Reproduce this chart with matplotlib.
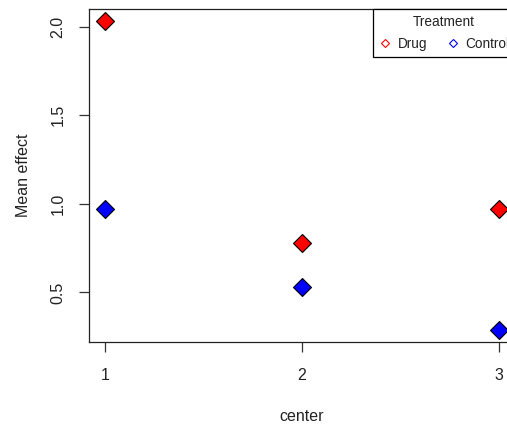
'''
Mean effect by center for drug vs control (R base-graphics look).
'''
import matplotlib
matplotlib.use("Agg")
import matplotlib.pyplot as plt
from matplotlib.lines import Line2D

# Data
centers = [1, 2, 3]
drug_mean = [2.03, 0.78, 0.97]
control_mean = [0.97, 0.53, 0.29]
treatments = ["Drug", "Control"]
x_ticks = [1, 2, 3]
y_ticks = [0.5, 1.0, 1.5, 2.0]

plt.rcParams['font.family'] = ['Liberation Sans', 'DejaVu Sans']
text_col = '#222222'

fig = plt.figure(figsize=(5.07, 4.25), dpi=100)
# plot region runs past the right edge, as in the cropped reference
ax = fig.add_axes([89 / 507, 1 - 342 / 425, (515 - 89) / 507, (342 - 9) / 425])

ax.plot(centers, drug_mean, linestyle='none', marker='D', markersize=9.2,
        markerfacecolor='#FF0000', markeredgecolor='black', markeredgewidth=0.8)
ax.plot(centers, control_mean, linestyle='none', marker='D', markersize=9.2,
        markerfacecolor='#0000FF', markeredgecolor='black', markeredgewidth=0.8)

# R-style 4% padding
all_y = drug_mean + control_mean
yr = max(all_y) - min(all_y)
ax.set_xlim(min(centers) - 0.04 * (max(centers) - min(centers)),
            max(centers) + 0.04 * (max(centers) - min(centers)))
ax.set_ylim(min(all_y) - 0.04 * yr, max(all_y) + 0.04 * yr)

ax.set_xticks(x_ticks)
ax.set_xticklabels([str(v) for v in x_ticks])
ax.set_yticks(y_ticks)
ax.set_yticklabels([f"{v:.1f}" for v in y_ticks], rotation=90, va='center')
ax.tick_params(axis='both', direction='out', length=7, width=0.9,
               color='#333333', labelsize=11.5, labelcolor=text_col, pad=10)
ax.tick_params(axis='x', pad=11.5)

for s in ax.spines.values():
    s.set_linewidth(0.9)
    s.set_color('#222222')

ax.set_xlabel("center", fontsize=11.5, color=text_col, labelpad=19)
ax.set_ylabel("Mean effect", fontsize=11.5, color=text_col, labelpad=14)

handles = [
    Line2D([], [], linestyle='none', marker='D', markersize=4.4,
           markerfacecolor='none', markeredgecolor='#FF0000', markeredgewidth=0.8),
    Line2D([], [], linestyle='none', marker='D', markersize=4.4,
           markerfacecolor='none', markeredgecolor='#0000FF', markeredgewidth=0.8),
]
leg = ax.legend(handles, treatments, title="Treatment", ncol=2, loc='upper right',
                borderaxespad=0, fontsize=9.8, title_fontsize=9.8, fancybox=False,
                edgecolor='black', framealpha=1, handlelength=1.0, handletextpad=0.4,
                columnspacing=1.4, borderpad=0.42, labelspacing=0.6)
leg.get_frame().set_linewidth(0.9)
for t in leg.get_texts():
    t.set_color(text_col)
leg.get_title().set_color(text_col)

fig.savefig("out.png", dpi=100)
